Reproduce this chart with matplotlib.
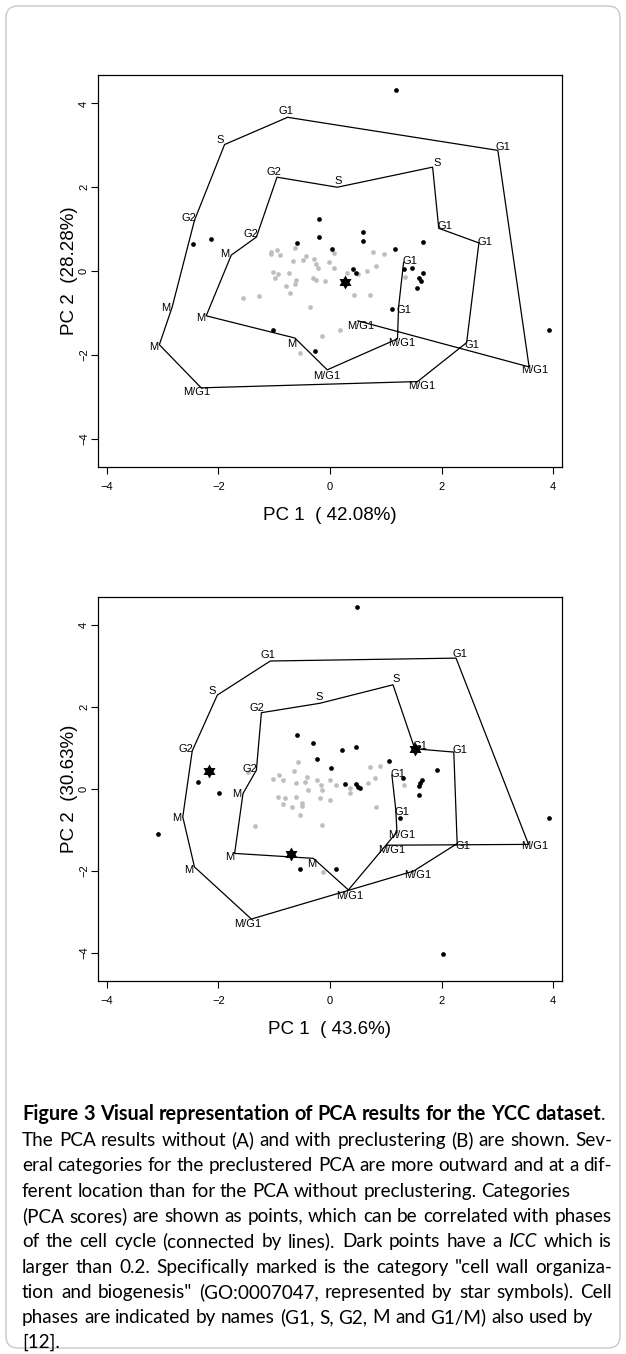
import numpy as np
import matplotlib.pyplot as plt
from matplotlib.patches import FancyBboxPatch
from matplotlib.transforms import IdentityTransform

W, H = 626, 1354
PLOT_FONT = 'Liberation Sans'
CAP_FONT = 'Lato'
plt.rcParams['font.family'] = PLOT_FONT

# cell cycle phase of each time point (same time course in both panels)
phases = ['M/G1', 'M/G1', 'G1', 'G1', 'S', 'G2', 'M', 'M', 'M/G1', 'M/G1',
          'G1', 'G1', 'G1', 'S', 'S', 'G2', 'G2', 'M', 'M', 'M',
          'M/G1', 'M/G1', 'G1', 'G1']

# ---- panel A: PCA without preclustering
a_path_x = [0.50, 3.57, 3.01, -0.76, -1.89, -2.43, -2.83, -3.06, -2.31, 1.57,
            2.45, 2.67, 1.95, 1.84, 0.13, -0.95, -1.32, -1.77, -2.22, -0.63,
            -0.05, 1.21, 1.23, 1.32]
a_path_y = [-1.19, -2.29, 2.88, 3.67, 3.02, 1.21, -0.86, -1.76, -2.79, -2.64,
            -1.71, 0.67, 1.02, 2.48, 2.00, 2.24, 0.81, 0.38, -1.07, -1.60,
            -2.36, -1.62, -0.86, 0.21]
a_dark_x = [1.19, -0.20, -0.20, -0.60, 0.04, -2.45, -2.14, 0.59, 0.59, 1.16,
            1.67, 0.42, 0.46, 1.32, 1.47, 1.66, 1.59, 1.63, 1.56, 1.11,
            -1.03, -0.27, 3.92]
a_dark_y = [4.31, 1.24, 0.82, 0.68, 0.52, 0.64, 0.77, 0.92, 0.71, 0.52,
            0.70, 0.05, -0.05, 0.04, 0.08, -0.05, -0.17, -0.24, -0.41, -0.90,
            -1.42, -1.90, -1.40]
a_grey_x = [-1.05, -0.95, -0.90, -1.05, -0.63, -0.43, -0.49, -0.67, -0.29, -0.26,
            -0.22, -0.01, 0.07, 0.07, -1.03, -0.93, -0.99, -0.73, -0.61, -0.63,
            -0.79, -0.71, -0.31, -0.25, -0.09, 0.31, 0.51, 0.67, 0.82, 0.77,
            0.97, 0.43, 0.72, 1.34, -1.56, -1.27, -0.35, 0.18, -0.15, -0.54]
a_grey_y = [0.46, 0.50, 0.38, 0.40, 0.54, 0.36, 0.26, 0.24, 0.29, 0.16,
            0.06, 0.21, 0.08, 0.42, -0.03, -0.08, -0.17, -0.05, -0.21, -0.32,
            -0.36, -0.53, -0.16, -0.21, -0.25, -0.05, -0.08, 0.00, 0.13, 0.45,
            0.40, -0.57, -0.57, -0.14, -0.64, -0.59, -0.87, -1.40, -1.56, -1.96]
a_star_x = [0.27]
a_star_y = [-0.27]

# ---- panel B: PCA with preclustering
b_path_x = [1.02, 3.56, 2.26, -1.07, -2.02, -2.47, -2.64, -2.43, -1.41, 1.50,
            2.28, 2.22, 1.52, 1.13, -0.18, -1.23, -1.32, -1.56, -1.71, -0.30,
            0.33, 1.20, 1.18, 1.11]
b_path_y = [-1.37, -1.35, 3.19, 3.12, 2.29, 0.93, -0.68, -1.90, -3.17, -2.00,
            -1.33, 0.90, 0.98, 2.54, 2.09, 1.86, 0.46, -0.11, -1.57, -1.69,
            -2.46, -1.05, -0.51, 0.34]
b_dark_x = [0.48, -0.60, -0.31, -0.24, 0.01, -2.37, -1.99, 0.21, 0.46, 1.05,
            1.92, 1.30, 1.65, 1.62, 1.60, 1.60, 0.27, 0.47, 0.51, 0.54,
            -3.08, -0.53, 0.11, 1.25, 3.92, 2.02]
b_dark_y = [4.43, 1.32, 1.11, 0.73, 0.50, 0.18, -0.10, 0.95, 1.03, 0.69,
            0.46, 0.26, 0.22, 0.15, 0.07, -0.15, 0.11, 0.11, 0.06, 0.02,
            -1.10, -1.95, -1.94, -0.70, -0.71, -4.03]
b_grey_x = [-0.57, -1.47, -0.92, -1.02, -0.84, -0.64, -0.61, -0.42, -0.45, -0.24,
            -0.16, 0.00, 0.11, -0.39, -0.93, -0.80, -0.61, -0.18, 0.00, -0.84,
            -0.68, -0.50, -0.50, -0.53, -1.34, -0.15, -0.13, 0.71, 0.90, 0.81,
            1.33, 0.68, 0.35, -0.15, 0.36, 0.83]
b_grey_y = [0.67, 0.42, 0.34, 0.24, 0.22, 0.44, 0.15, 0.30, 0.18, 0.22,
            0.10, 0.22, 0.10, -0.02, -0.20, -0.22, -0.20, -0.21, -0.26, -0.37,
            -0.45, -0.35, -0.41, -0.63, -0.90, -0.88, -2.03, 0.54, 0.57, 0.26,
            0.10, 0.14, 0.02, -0.02, -0.10, -0.45]
b_star_x = [-2.17, 1.52, -0.70]
b_star_y = [0.45, 0.98, -1.59]

ticks = [-4, -2, 0, 2, 4]

fig = plt.figure(figsize=(W / 100, H / 100), dpi=100)

# light rounded frame round the whole figure
fig.add_artist(FancyBboxPatch((6, 6), W - 12, H - 12,
                              boxstyle='round,pad=0,rounding_size=12',
                              transform=IdentityTransform(), fill=False,
                              ec='#c8c8c8', lw=1.0))

# hexagram marker (two overlaid triangles)
k = np.arange(12)
ang = np.pi / 2 + k * np.pi / 6
rad = np.where(k % 2 == 0, 1.0, 1 / np.sqrt(3))
star = list(zip(rad * np.cos(ang), rad * np.sin(ang)))


def panel(top, bottom, px, py, gx, gy, dx, dy, sx, sy, xlab, ylab):
    ax = fig.add_axes([98 / W, 1 - bottom / H, (562 - 98) / W, (bottom - top) / H])
    ax.plot(gx, gy, 'o', color='#bebebe', ms=3.4, mec='none', zorder=1)
    ax.plot(px, py, color='black', lw=0.9, zorder=2)
    ax.plot(dx, dy, 'o', color='black', ms=3.4, mec='none', zorder=3)
    ax.plot(sx, sy, marker=star, ls='none', color='black', ms=10, mec='none', zorder=4)
    for lab, x, y in zip(phases, px, py):
        u = np.array([x * 55.8, y * 41.5])
        u = u / (np.hypot(*u) or 1)
        ax.annotate(lab, (x, y), xytext=(4.5 * u[0], 4.5 * u[1]),
                    textcoords='offset points', ha='center', va='center',
                    fontsize=8, zorder=5)
    ax.set_xlim(-4.16, 4.16)
    ax.set_ylim(-4.68, 4.68)
    ax.set_xticks(ticks)
    ax.set_yticks(ticks)
    ax.tick_params(direction='out', length=5, width=0.8, labelsize=8)
    ax.tick_params(axis='x', pad=6)
    ax.tick_params(axis='y', pad=1.5, labelrotation=90)
    plt.setp(ax.get_yticklabels(), va='center')
    for s in ax.spines.values():
        s.set_linewidth(0.9)
    fig.text(330 / W, 1 - (bottom + 49) / H, xlab, ha='center', va='center', fontsize=13.5)
    fig.text(70 / W, 1 - (top + bottom) / 2 / H, ylab, ha='center', va='center',
             rotation=90, fontsize=13.5)
    return ax


panel(75, 467, a_path_x, a_path_y, a_grey_x, a_grey_y, a_dark_x, a_dark_y,
      a_star_x, a_star_y, 'PC 1  ( 42.08%)', 'PC 2  (28.28%)')
panel(597, 981, b_path_x, b_path_y, b_grey_x, b_grey_y, b_dark_x, b_dark_y,
      b_star_x, b_star_y, 'PC 1  ( 43.6%)', 'PC 2  (30.63%)')

# ---- caption
cap_lines = [
    [('Figure 3 Visual representation of PCA results for the YCC dataset', 'bold'), ('.', 'normal')],
    [('The PCA results without (A) and with preclustering (B) are shown. Sev-', 'normal')],
    [('eral categories for the preclustered PCA are more outward and at a dif-', 'normal')],
    [('ferent location than for the PCA without preclustering. Categories', 'normal')],
    [('(PCA scores) are shown as points, which can be correlated with phases', 'normal')],
    [('of the cell cycle (connected by lines). Dark points have a ', 'normal'), ('ICC', 'italic'),
     (' which is', 'normal')],
    [('larger than 0.2. Specifically marked is the category "cell wall organiza-', 'normal')],
    [('tion and biogenesis" (GO:0007047, represented by star symbols). Cell', 'normal')],
    [('phases are indicated by names (G1, S, G2, M and G1/M) also used by', 'normal')],
    [('[12].', 'normal')],
]
cap_justify = [False, True, True, False, True, True, True, True, False, False]
cap_y = [1115, 1141, 1166, 1192, 1217, 1242, 1268, 1293, 1318, 1343]
LEFT, RIGHT = 22, 612

renderer = fig.canvas.get_renderer()


def width(t):
    return t.get_window_extent(renderer).width


def cfont(st, size):
    return dict(family=CAP_FONT, fontsize=size,
                weight='bold' if st == 'bold' else 'normal',
                style='italic' if st == 'italic' else 'normal')


def fit(text, st, target):
    t = fig.text(0, 0, text, **cfont(st, 12))
    w = width(t)
    t.remove()
    return 12 * target / w


size_n = fit(cap_lines[1][0][0], 'normal', RIGHT - LEFT - 10)
size_b = fit(cap_lines[0][0][0] + '.', 'bold', 600 - LEFT)


def size_of(st):
    return size_b if st == 'bold' else size_n


def space(st):
    a = fig.text(0, 0, 'a a', **cfont(st, size_of(st)))
    b = fig.text(0, 0, 'aa', **cfont(st, size_of(st)))
    w = width(a) - width(b)
    a.remove()
    b.remove()
    return w


for runs, just, cy in zip(cap_lines, cap_justify, cap_y):
    words = []
    new_word = True
    for text, st in runs:
        for i, p in enumerate(text.split(' ')):
            if i > 0:
                new_word = True
            if p:
                if new_word or not words:
                    words.append([])
                words[-1].append((p, st))
                new_word = False
    yb = 1 - (cy + 5) / H
    arts, widths = [], []
    for w in words:
        segs = []
        for seg, st in w:
            t = fig.text(0, yb, seg, **cfont(st, size_of(st)))
            segs.append((t, width(t)))
        arts.append(segs)
        widths.append(sum(s[1] for s in segs))
    if just and len(words) > 1:
        gap = (RIGHT - LEFT - sum(widths)) / (len(words) - 1)
    else:
        gap = space(runs[0][1])
    x = LEFT
    for segs, wd in zip(arts, widths):
        xx = x
        for t, sw in segs:
            t.set_x(xx / W)
            xx += sw
        x += wd + gap

fig.savefig('out.png', dpi=100)
